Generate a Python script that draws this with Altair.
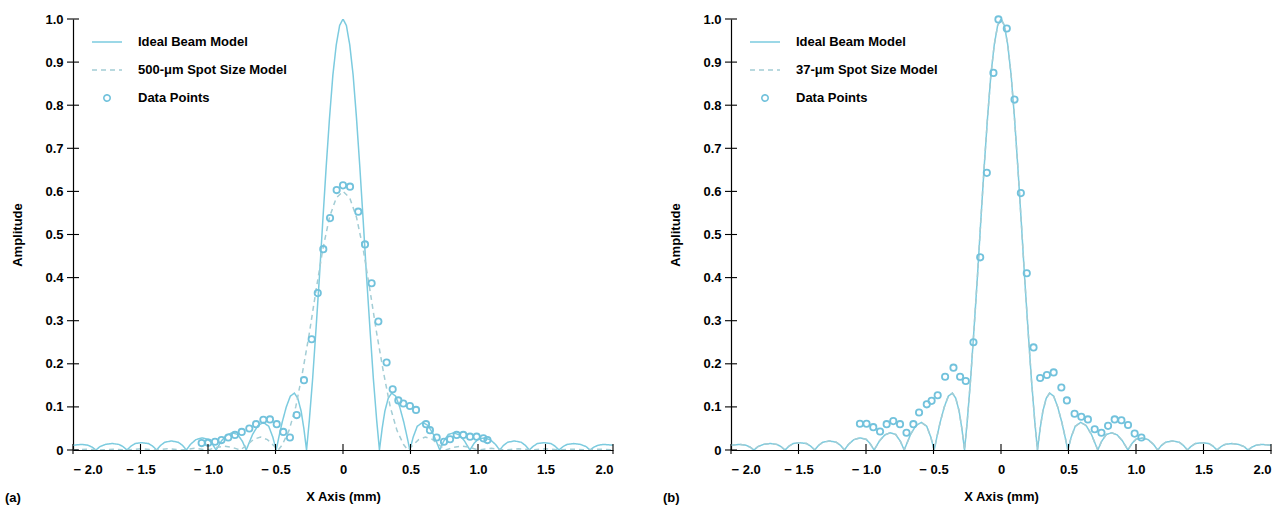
import altair as alt
import pandas as pd

# ---------------- data ----------------
# ideal beam model, right half (x >= 0); the curve is symmetric about 0
ideal_x_half = [0, 0.025, 0.05, 0.075, 0.1, 0.125, 0.15, 0.175, 0.2, 0.225, 0.25, 0.27,
                0.29, 0.31, 0.335, 0.36, 0.39, 0.42, 0.45, 0.475, 0.495,
                0.52, 0.55, 0.59, 0.63, 0.67, 0.717,
                0.745, 0.78, 0.82, 0.86, 0.90, 0.94,
                0.97, 1.0, 1.045, 1.09, 1.13, 1.16,
                1.19, 1.22, 1.27, 1.32, 1.35, 1.38,
                1.41, 1.44, 1.49, 1.54, 1.57, 1.60,
                1.63, 1.66, 1.71, 1.76, 1.80, 1.83,
                1.86, 1.89, 1.93, 1.97, 2.0]
ideal_y_half = [1.0, 0.985, 0.94, 0.87, 0.77, 0.655, 0.53, 0.40, 0.28, 0.165, 0.067, 0.0,
                0.05, 0.09, 0.12, 0.132, 0.125, 0.10, 0.065, 0.03, 0.0,
                0.03, 0.055, 0.064, 0.057, 0.036, 0.0,
                0.02, 0.036, 0.04, 0.035, 0.021, 0.0,
                0.015, 0.025, 0.028, 0.024, 0.013, 0.0,
                0.011, 0.018, 0.021, 0.018, 0.011, 0.0,
                0.009, 0.015, 0.017, 0.015, 0.009, 0.0,
                0.008, 0.013, 0.015, 0.013, 0.008, 0.0,
                0.007, 0.011, 0.013, 0.012, 0.011]

# 500-um spot size model (panel a), right half
spot_x_half = [0, 0.05, 0.1, 0.15, 0.2, 0.25, 0.3, 0.35, 0.4, 0.45, 0.48,
               0.52, 0.56, 0.61, 0.66, 0.71, 0.76, 0.82, 0.88, 0.94, 1.0,
               1.1, 1.2, 1.3, 1.4, 1.5, 1.6, 1.7, 1.8, 1.9, 2.0]
spot_y_half = [0.60, 0.585, 0.54, 0.465, 0.37, 0.27, 0.18, 0.10, 0.045, 0.012, 0.0,
               0.012, 0.024, 0.03, 0.025, 0.012, 0.0, 0.006, 0.009, 0.006, 0.0,
               0.004, 0.0, 0.003, 0.0, 0.003, 0.0, 0.002, 0.0, 0.002, 0.0]

# measured data points, panel (a)
a_pts_x = [-1.047, -0.998, -0.948, -0.90, -0.85, -0.80, -0.75, -0.694, -0.644, -0.59,
           -0.541, -0.491, -0.442, -0.393, -0.343, -0.289, -0.232, -0.187, -0.146, -0.096,
           -0.047, 0.0, 0.052, 0.113, 0.163, 0.212, 0.262, 0.323, 0.368, 0.41, 0.447,
           0.496, 0.541, 0.615, 0.644, 0.694, 0.748, 0.793, 0.842, 0.891, 0.941,
           0.99, 1.04, 1.07]
a_pts_y = [0.016, 0.017, 0.019, 0.023, 0.029, 0.035, 0.042, 0.050, 0.060, 0.070,
           0.071, 0.060, 0.042, 0.029, 0.081, 0.162, 0.257, 0.364, 0.466, 0.538,
           0.603, 0.614, 0.611, 0.553, 0.477, 0.387, 0.298, 0.203, 0.141, 0.115, 0.108,
           0.102, 0.093, 0.060, 0.046, 0.029, 0.019, 0.025, 0.035, 0.035, 0.031,
           0.031, 0.027, 0.023]

# measured data points, panel (b)
b_pts_x = [-1.045, -0.996, -0.946, -0.896, -0.847, -0.798, -0.748, -0.70, -0.649, -0.607,
           -0.55, -0.514, -0.469, -0.414, -0.352, -0.303, -0.261, -0.204, -0.154, -0.105,
           -0.056, -0.019, 0.043, 0.10, 0.147, 0.191, 0.241, 0.29, 0.34, 0.39,
           0.447, 0.488, 0.545, 0.595, 0.644, 0.694, 0.744, 0.793, 0.842, 0.892,
           0.941, 0.99, 1.04]
b_pts_y = [0.061, 0.061, 0.053, 0.043, 0.060, 0.067, 0.060, 0.040, 0.060, 0.087,
           0.106, 0.114, 0.127, 0.170, 0.191, 0.170, 0.160, 0.250, 0.447, 0.643,
           0.875, 0.999, 0.978, 0.813, 0.596, 0.41, 0.238, 0.167, 0.174, 0.18,
           0.145, 0.115, 0.084, 0.077, 0.071, 0.048, 0.040, 0.056, 0.071, 0.069,
           0.058, 0.038, 0.029]

x_ticks = [-2.0, -1.5, -1.0, -0.5, 0.0, 0.5, 1.0, 1.5, 2.0]
y_ticks = [0.0, 0.1, 0.2, 0.3, 0.4, 0.5, 0.6, 0.7, 0.8, 0.9, 1.0]

series_a = ["Ideal Beam Model", "500-\u03bcm Spot Size Model", "Data Points"]
series_b = ["Ideal Beam Model", "37-\u03bcm Spot Size Model", "Data Points"]
panel_tags = ["(a)", "(b)"]

# ---------------- styling ----------------
FONT = "Liberation Sans, Arial, sans-serif"
C_LINE = "#7ccbdf"
C_DASH = "#a3cdd5"
C_PT = "#72c2dc"
W, H = 540, 431


def mirror(xs, ys):
    left = [(-x, y) for x, y in zip(xs, ys) if x > 0][::-1]
    right = list(zip(xs, ys))
    full = left + right
    return [p[0] for p in full], [p[1] for p in full]


def panel(names, model_x, model_y, pts_x, pts_y, tag):
    ix, iy = mirror(ideal_x_half, ideal_y_half)
    lines = pd.DataFrame({
        "x": ix + model_x,
        "y": iy + model_y,
        "series": [names[0]] * len(ix) + [names[1]] * len(model_x),
    })
    pts = pd.DataFrame({"x": pts_x, "y": pts_y, "series": [names[2]] * len(pts_x)})

    xs = alt.Scale(domain=[-2, 2], nice=False, zero=False)
    ys = alt.Scale(domain=[0, 1], nice=False)

    x_axis = alt.Axis(
        values=x_ticks, ticks=False, tickSize=0, grid=False, domainColor="black",
        domainWidth=1.2, labelFont=FONT, labelFontSize=13, labelFontWeight="bold",
        labelColor="black", labelPadding=13, title="X Axis (mm)", titleFont=FONT,
        titleFontSize=13, titleFontWeight="bold", titleColor="black", titlePadding=14,
        labelExpr="datum.value < 0 ? '\u2212 ' + format(-datum.value, '.1f') : "
                  "(datum.value == 0 ? '0' : format(datum.value, '.1f'))",
    )
    y_axis = alt.Axis(
        values=y_ticks, ticks=False, tickSize=0, grid=False, domainColor="black",
        domainWidth=1.2, labelFont=FONT, labelFontSize=13, labelFontWeight="bold",
        labelColor="black", labelPadding=10, title="Amplitude", titleFont=FONT,
        titleFontSize=13, titleFontWeight="bold", titleColor="black", titlePadding=20,
        labelExpr="datum.value == 0 ? '0' : format(datum.value, '.1f')",
    )

    legend = alt.Legend(
        title=None, orient="none", legendX=18, legendY=9, padding=0,
        labelFont=FONT, labelFontSize=13, labelFontWeight="bold", labelColor="black",
        labelOffset=15, rowPadding=0, clipHeight=28, gridAlign="all",
        symbolStrokeWidth=1.6, labelLimit=400,
    )
    color = alt.Color("series:N",
                      scale=alt.Scale(domain=names, range=[C_LINE, C_DASH, C_PT]),
                      legend=legend)
    dash = alt.StrokeDash("series:N",
                          scale=alt.Scale(domain=names, range=[[1, 0], [5, 4], [1, 0]]),
                          legend=legend)
    shape = alt.Shape("series:N",
                      scale=alt.Scale(domain=names, range=["stroke", "stroke", "circle"]),
                      legend=legend)
    size = alt.Size("series:N",
                    scale=alt.Scale(type="ordinal", domain=names, range=[900, 900, 40]),
                    legend=legend)

    line_layer = alt.Chart(lines).mark_line(strokeWidth=1.5, clip=True).encode(
        x=alt.X("x:Q", scale=xs, axis=x_axis),
        y=alt.Y("y:Q", scale=ys, axis=y_axis),
        color=color,
        strokeDash=dash,
    )
    pt_layer = alt.Chart(pts).mark_point(filled=False, strokeWidth=1.8, opacity=1).encode(
        x=alt.X("x:Q", scale=xs),
        y=alt.Y("y:Q", scale=ys),
        color=color,
        shape=shape,
        size=size,
    )
    yt = alt.Chart(pd.DataFrame({"v": y_ticks})).mark_rule(color="black", strokeWidth=1.1).encode(
        y=alt.Y("v:Q", scale=ys), x=alt.value(-6), x2=alt.value(6))
    xt = alt.Chart(pd.DataFrame({"v": x_ticks})).mark_rule(color="black", strokeWidth=1.1).encode(
        x=alt.X("v:Q", scale=xs), y=alt.value(H - 6), y2=alt.value(H + 4))
    tag_layer = alt.Chart(pd.DataFrame({"t": [tag]})).mark_text(
        font=FONT, fontSize=13, fontWeight="bold", color="black", align="left",
        baseline="middle").encode(text="t:N", x=alt.value(-68), y=alt.value(H + 48))

    return alt.layer(line_layer, pt_layer, yt, xt, tag_layer).properties(width=W, height=H)


left = panel(series_a, *mirror(spot_x_half, spot_y_half), a_pts_x, a_pts_y, panel_tags[0])
right = panel(series_b, *mirror(ideal_x_half, ideal_y_half), b_pts_x, b_pts_y, panel_tags[1])

chart = alt.hconcat(left, right, spacing=49).resolve_scale(
    color="independent", strokeDash="independent", shape="independent", size="independent"
).configure_view(stroke=None).properties(
    padding={"left": 5, "top": 12, "right": 2, "bottom": 0},
    background="white",
)

chart.save("out.html", embed_options={"renderer": "svg", "actions": False})
